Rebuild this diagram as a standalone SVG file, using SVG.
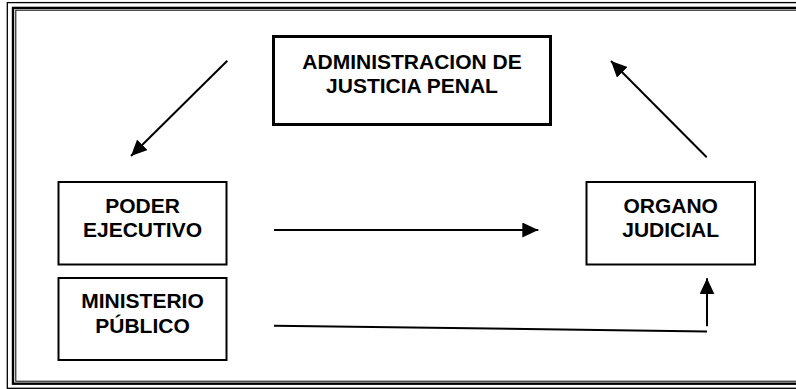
<svg xmlns="http://www.w3.org/2000/svg" width="796" height="389" viewBox="0 0 796 389">
<style>
.box{fill:#fff;stroke:#000;stroke-width:2}
.title{fill:#fff;stroke:#000;stroke-width:3}
.t{font-family:"Liberation Sans",Arial,sans-serif;font-weight:bold;font-size:21px;text-anchor:middle;fill:#000}
.c{stroke:#000;stroke-width:2;fill:none}
</style>
<defs>
<marker id="ah" markerUnits="userSpaceOnUse" markerWidth="17" markerHeight="16" refX="16" refY="7.5" orient="auto">
<path d="M0,0 L16,7.5 L0,15 z" fill="#000"/>
</marker>
</defs>
<rect width="796" height="389" fill="#fff"/>
<g id="frame" fill="none" stroke="#000">
<rect x="7.3" y="2.6" width="800" height="385.7" stroke-width="1.3"/>
<rect x="13" y="7.9" width="800" height="375.8" stroke-width="2.4"/>
<rect x="15.8" y="10.2" width="800" height="371" stroke-width="1"/>
</g>
<g id="administracion">
<rect class="title" x="273.5" y="36.5" width="277" height="88"/>
<text class="t" x="412" y="68.5">ADMINISTRACION DE</text>
<text class="t" x="412" y="92.5">JUSTICIA PENAL</text>
</g>
<g id="poder">
<rect class="box" x="58.5" y="182" width="168" height="82.5"/>
<text class="t" x="142.5" y="212.5">PODER</text>
<text class="t" x="142.5" y="236.7">EJECUTIVO</text>
</g>
<g id="ministerio">
<rect class="box" x="58.5" y="278" width="168" height="82"/>
<text class="t" x="142.5" y="308.3">MINISTERIO</text>
<text class="t" x="142.5" y="332.6">PÚBLICO</text>
</g>
<g id="organo">
<rect class="box" x="586.5" y="182" width="168.5" height="82.5"/>
<text class="t" x="670.7" y="212.5">ORGANO</text>
<text class="t" x="670.7" y="236.7">JUDICIAL</text>
</g>
<g id="connectors">
<line class="c" x1="227.3" y1="60.7" x2="131" y2="156" marker-end="url(#ah)"/>
<line class="c" x1="706.7" y1="157.3" x2="611" y2="61" marker-end="url(#ah)"/>
<line class="c" x1="274" y1="230" x2="538.3" y2="230" marker-end="url(#ah)"/>
<line class="c" x1="274" y1="325.7" x2="707" y2="331.5"/>
<line class="c" x1="707" y1="326.3" x2="707" y2="278.3" marker-end="url(#ah)"/>
</g>
</svg>
